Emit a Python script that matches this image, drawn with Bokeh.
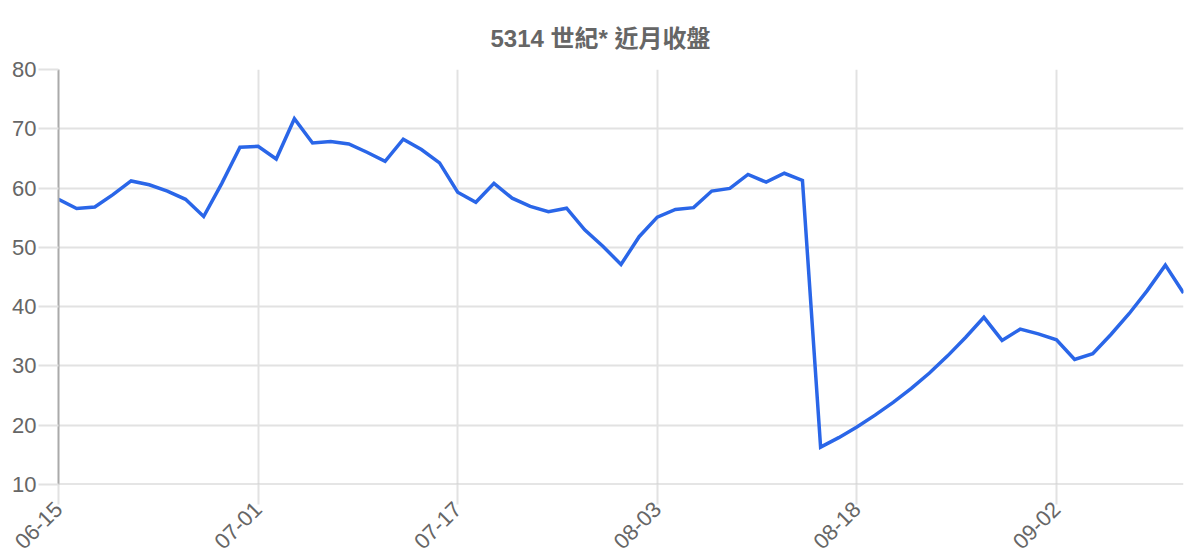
import math
from bokeh.plotting import figure
from bokeh.models import FixedTicker, Range1d, Span
from bokeh.embed import file_html
from bokeh.resources import INLINE

title_text = "5314 世紀* 近月收盤"

closes = [
    58.1, 56.55, 56.8, 58.9, 61.2, 60.55, 59.5, 58.1, 55.2, 60.8,
    66.9, 67.05, 64.9, 71.7, 67.6, 67.85, 67.45, 66.05, 64.5, 68.25,
    66.5, 64.25, 59.3, 57.6, 60.8, 58.3, 56.9, 56.0, 56.6, 52.95,
    50.2, 47.1, 51.8, 55.1, 56.4, 56.7, 59.5, 59.95, 62.3, 61.0,
    62.5, 61.3, 16.3, 17.9, 19.7, 21.7, 23.85, 26.2, 28.8, 31.7,
    34.85, 38.2, 34.3, 36.2, 35.4, 34.4, 31.1, 32.05, 35.3, 38.8,
    42.7, 47.0, 42.3,
]

tick_index = [0, 11, 22, 33, 44, 55]
tick_labels = ["06-15", "07-01", "07-17", "08-03", "08-18", "09-02"]
y_ticks = [10, 20, 30, 40, 50, 60, 70, 80]

FONT = "Liberation Sans, Noto Sans CJK TC"
TXT = "#666666"
GRID = "#e2e2e2"

xs = list(range(len(closes)))

p = figure(width=1184, height=560, output_backend="svg", toolbar_location=None,
           x_range=Range1d(0, len(closes) - 1), y_range=Range1d(10, 80),
           min_border_left=58, min_border_right=1, min_border_top=69,
           min_border_bottom=76)
p.outline_line_color = None
p.background_fill_color = "white"
p.border_fill_color = "white"

p.title.text = title_text
p.title.align = "left"
p.title.offset = 432
p.title.standoff = 35
p.title.text_font = FONT
p.title.text_font_size = "24px"
p.title.text_font_style = "bold"
p.title.text_color = TXT

# grids
p.xgrid.ticker = FixedTicker(ticks=tick_index)
p.ygrid.ticker = FixedTicker(ticks=y_ticks)
p.xgrid.grid_line_color = GRID
p.ygrid.grid_line_color = GRID
p.xgrid.grid_line_width = 2
p.ygrid.grid_line_width = 2

# x axis
xa = p.xaxis[0]
xa.ticker = FixedTicker(ticks=tick_index)
xa.major_label_overrides = {i: s for i, s in zip(tick_index, tick_labels)}
xa.major_label_orientation = math.pi / 4
xa.axis_line_color = None
xa.major_tick_line_color = GRID
xa.major_tick_line_width = 2
xa.major_tick_out = 20
xa.major_tick_in = 0
xa.minor_tick_line_color = None
xa.major_label_text_font = FONT
xa.major_label_text_font_size = "22px"
xa.major_label_text_color = TXT
xa.major_label_standoff = 1

# y axis
ya = p.yaxis[0]
ya.ticker = FixedTicker(ticks=y_ticks)
ya.axis_line_color = "#aaaaaa"
ya.axis_line_width = 2
ya.major_tick_line_color = GRID
ya.major_tick_line_width = 2
ya.major_tick_out = 20
ya.major_tick_in = 0
ya.minor_tick_line_color = None
ya.major_label_text_font = FONT
ya.major_label_text_font_size = "22px"
ya.major_label_text_color = TXT
ya.major_label_standoff = 2

p.add_layout(Span(location=10, dimension="width", line_color="#cccccc", line_width=2))

p.line(xs, closes, line_color="#2a66e8", line_width=3.5, line_join="miter")

open("out.html", "w").write(file_html(p, INLINE))
